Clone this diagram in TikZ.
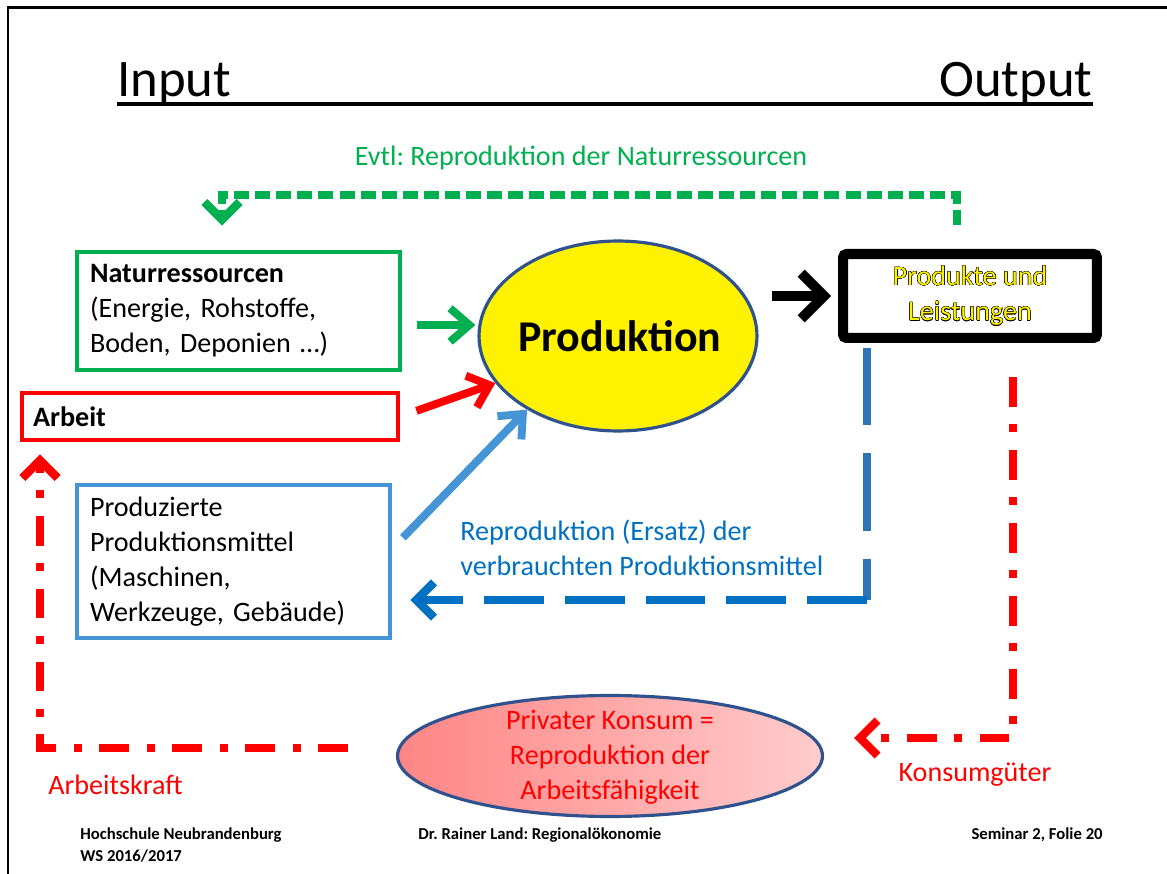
\documentclass[tikz,border=0pt]{standalone}
\usepackage{fontspec}
\setmainfont{Carlito}
\usepackage{contour}
\contourlength{0.2pt}
\usetikzlibrary{arrows.meta,shapes.geometric}
\definecolor{natgreen}{RGB}{0,176,80}
\definecolor{pmblue}{RGB}{68,148,214}
\definecolor{repblue}{RGB}{0,112,192}
\definecolor{vertblue}{RGB}{46,117,182}
\definecolor{ellborder}{RGB}{47,82,143}
\frenchspacing
\begin{document}
\begin{tikzpicture}
          [x=0.02cm,y=-0.02cm,every node/.style={inner sep=0pt, font=\fontsize{16}{20}\selectfont},
           nbox/.style={draw, line width=2.8pt, align=left, inner xsep=0.26cm},
           ell/.style={ellipse, draw=ellborder, line width=1.8pt},
           arr/.style={line width=4.5pt, -{Straight Barb[length=11pt,width=19pt]}},
           back/.style={line width=4.8pt, -{Straight Barb[length=10pt,width=20pt]}},
           dashdot/.style={dash pattern=on 17pt off 10pt on 4.5pt off 10pt},
           foot/.style={font=\bfseries\fontsize{9.5}{12.5}\selectfont}]
        \useasboundingbox (0,0) rectangle (1167,874);
        \draw[line width=1.7pt] (8,874) -- (8,8) -- (1167,8);

        \node[anchor=base west, font=\fontsize{30}{36}\selectfont] (ttlin) at (117,97) {Input};
        \node[anchor=base east, font=\fontsize{30}{36}\selectfont] (ttlout) at (1093,97) {Output};
        \draw[line width=2.3pt] ([yshift=-0.14cm]ttlin.base west) -- ([yshift=-0.14cm]ttlout.base east);

        \node[nbox, draw=natgreen, minimum width=6.46cm, minimum height=2.36cm, text width=5.94cm] (natur) at (238.5,311)
          {\textbf{Naturressourcen}\\(Energie, Rohstoffe,\\Boden, Deponien …)};
        \node[nbox, draw=red, minimum width=7.52cm, minimum height=0.94cm, text width=7.08cm, inner xsep=0.22cm] (arbeit) at (210,416.5)
          {\textbf{Arbeit}};
        \node[nbox, draw=pmblue, minimum width=6.26cm, minimum height=3.06cm, text width=5.74cm] (mittel) at (233.5,561.5)
          {Produzierte\\Produktionsmittel\\(Maschinen,\\Werkzeuge, Gebäude)};
        \node[ell, fill=yellow, minimum width=5.56cm, minimum height=3.8cm] (prod) at (618,336) {};
        \node[font=\bfseries\fontsize{25}{30}\selectfont] (prodtxt) at (620,336) {Produktion};
        \node[draw, line width=5.7pt, rounded corners=2pt, minimum width=5.08cm, minimum height=1.68cm, align=center, text=yellow] (out) at (970,296)
          {\contour{black}{Produkte und}\\\contour{black}{Leistungen}};
        \node[ell, shade, left color=red!48, right color=red!20, minimum width=8.5cm, minimum height=2.42cm] (konsum) at (610,756) {};
        \node[text=red, align=center] (konsumtxt) at (610,757) {Privater Konsum =\\Reproduktion der\\Arbeitsfähigkeit};

        \node[text=natgreen] (lgreen) at (581,158) {Evtl: Reproduktion der Naturressourcen};
        \node[text=repblue, anchor=west, align=left] (lblue) at (460,548) {Reproduktion (Ersatz) der\\verbrauchten Produktionsmittel};
        \node[text=red] (lkonsum) at (975,775) {Konsumgüter};
        \node[text=red, anchor=west] (lkraft) at (48,785) {Arbeitskraft};

        \node[foot, anchor=base west, align=left] (fhs) at (80,861) {Hochschule Neubrandenburg\\WS 2016/2017};
        \node[foot, anchor=base west] (fdoz) at (418,839) {Dr. Rainer Land: Regionalökonomie};
        \node[foot, anchor=base east] (fsem) at (1103,839) {Seminar 2, Folie 20};

        \coordinate (g1) at (957,195);
        \coordinate (g2) at (222,195);
        \coordinate (b1) at (867,600);
        \coordinate (r1) at (1013,738);
        \coordinate (r2) at (40,748);

        % inputs
        \draw[arr, natgreen, shorten <=0.3cm, shorten >=0.04cm] ([yshift=-0.28cm]natur.east) -- ([yshift=-0.28cm]natur.east -| prod.west);
        \draw[arr, red, shorten <=0.34cm] (arbeit.east) -- (prod.201);
        \draw[arr, pmblue, shorten <=0.3cm] ([yshift=0.26cm]mittel.east) -- (prod.219);
        \draw[line width=5.7pt, -{Straight Barb[length=13pt,width=26pt]}, shorten <=0.26cm, shorten >=0.14cm] (prod.east |- out.west) -- (out.west);

        % feedback
        \draw[back, natgreen, dash pattern=on 8.5pt off 3.5pt, shorten <=0.48cm, shorten >=0.48cm] (out.north -| g1) -- (g1) -- (g2) -- (g2 |- natur.north);
        \draw[line width=4.5pt, vertblue, dash pattern=on 44pt off 16pt, shorten <=0.1cm] (out.south -| b1) -- (b1);
        \draw[back, repblue, dash pattern=on 34pt off 12pt, shorten >=0.36cm] (b1) -- (b1 -| mittel.east);
        \draw[back, red, dashdot, shorten <=0.68cm, shorten >=0.6cm] (out.south -| r1) -- (r1) -- (r1 -| konsum.east);
        \draw[back, red, dashdot, shorten <=0.96cm, shorten >=0.24cm] (konsum.west |- r2) -- (r2) -- (r2 |- arbeit.south);
      \end{tikzpicture}
\end{document}
